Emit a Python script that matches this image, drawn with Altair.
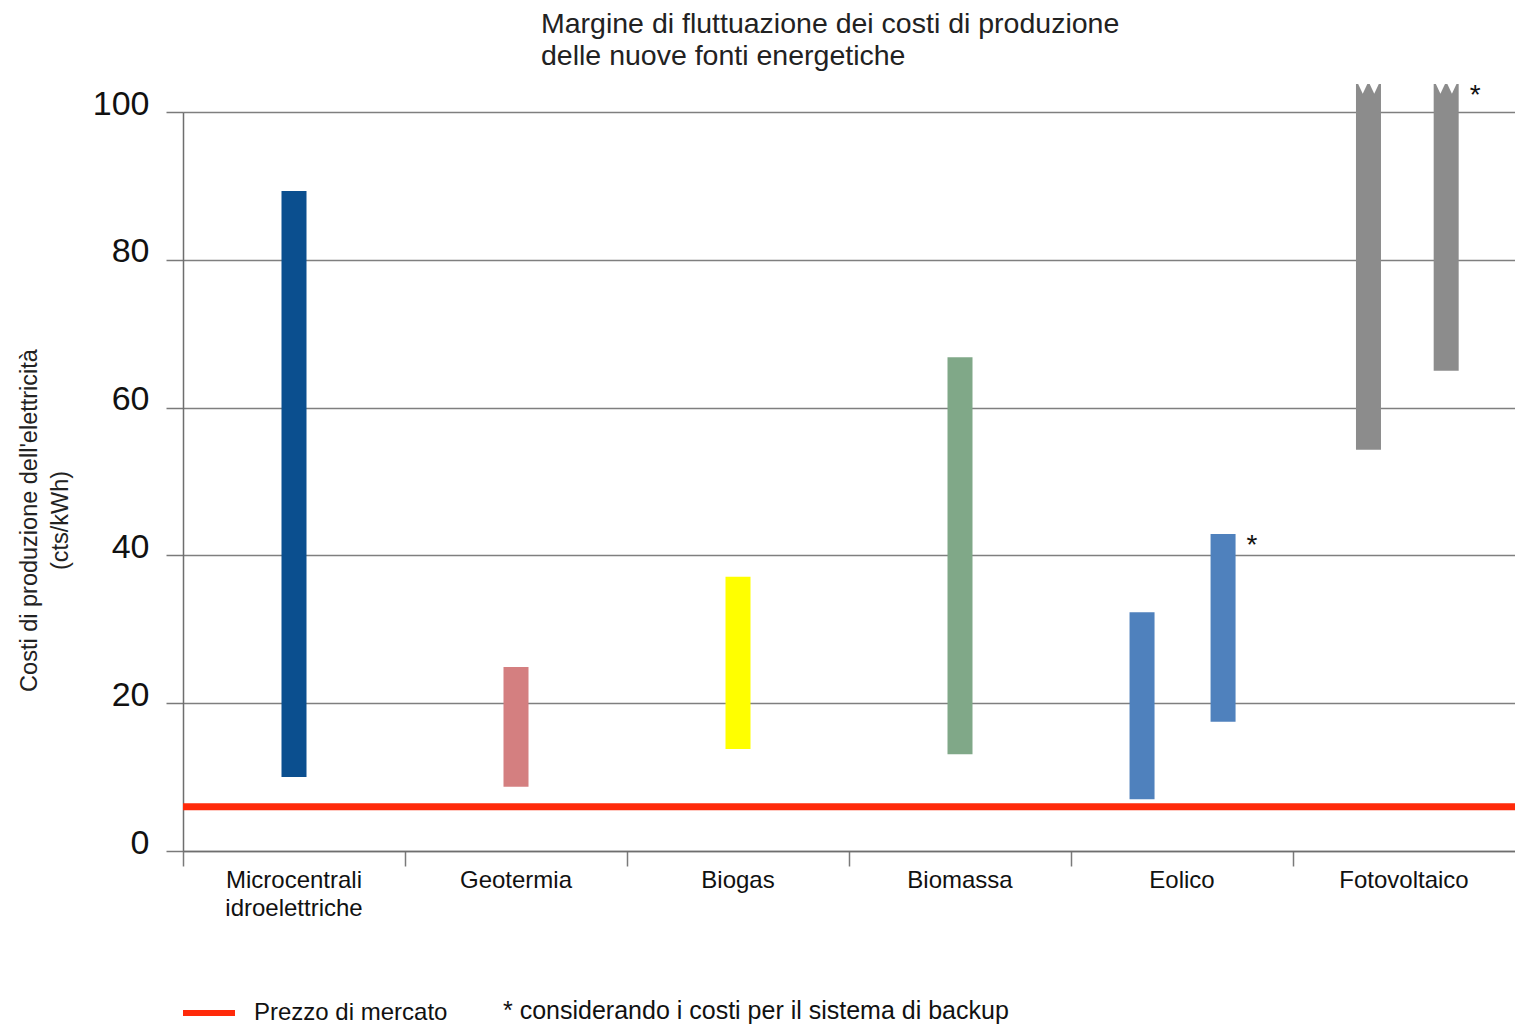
import altair as alt
import pandas as pd

# Energy sources on the horizontal axis (one band each)
categories = [
    "Microcentrali\nidroelettriche",
    "Geotermia",
    "Biogas",
    "Biomassa",
    "Eolico",
    "Fotovoltaico",
]
category_colors = ["#0b4f8f", "#d47f80", "#ffff00", "#80a888", "#4f81bd", "#8c8c8c"]

# Cost ranges (cts/kWh): one bar per range
bar_category = [0, 1, 2, 3, 4, 4, 5, 5]
bar_low = [10.0, 8.7, 13.8, 13.1, 7.0, 17.5, 54.3, 65.0]
bar_high = [89.3, 24.9, 37.1, 66.8, 32.3, 42.9, 103.8, 103.8]
bar_with_backup = [False, False, False, False, False, True, False, True]
bar_off_scale = [False, False, False, False, False, False, True, True]

market_price = 6.0
market_label = "Prezzo di mercato"
footnote = "* considerando i costi per il sistema di backup"
y_ticks = [0, 20, 40, 60, 80, 100]
y_title = ["Costi di produzione dell'elettricità", "(cts/kWh)"]
chart_title = ["Margine di fluttuazione dei costi di produzione", "delle nuove fonti energetiche"]

FONT = "Liberation Sans"

# Side-by-side placement (fraction of a band) for categories with two ranges
pair_shift = {4: (-0.18, 0.185), 5: (-0.16, 0.19)}

rows = []
for cat, lo, hi, backup, off in zip(bar_category, bar_low, bar_high, bar_with_backup, bar_off_scale):
    shift = 0.0
    if cat in pair_shift:
        shift = pair_shift[cat][1] if backup else pair_shift[cat][0]
    rows.append({
        "pos": cat + 0.5 + shift,
        "low": lo,
        "high": hi,
        "color": category_colors[cat],
        "star": "*" if backup else "",
        "off_scale": off,
    })
bars_df = pd.DataFrame(rows)
labels_df = pd.DataFrame({"pos": [i + 0.5 for i in range(len(categories))], "name": categories})
market_df = pd.DataFrame({"price": [market_price], "label": [market_label]})
note_df = pd.DataFrame({"note": [footnote]})

x_scale = alt.Scale(domain=[0, len(categories)], nice=False, zero=False, padding=0)
y_scale = alt.Scale(domain=[0, 100], nice=False, padding=0)

x_axis = alt.Axis(
    values=list(range(len(categories))), labels=False, title=None, grid=False,
    tickSize=15, tickColor="#7a7a7a", tickWidth=1.5,
    domainColor="#6e6e6e", domainWidth=1.5,
)
y_axis = alt.Axis(
    values=y_ticks, title=y_title, grid=True,
    gridColor="#7f7f7f", gridWidth=1.3,
    domainColor="#6e6e6e", domainWidth=1.5,
    tickColor="#7a7a7a", tickWidth=1.5, tickSize=17,
    labelFont=FONT, labelFontSize=34, labelColor="#111111",
    labelPadding=17, labelBaseline="alphabetic", labelOffset=2,
    titleFont=FONT, titleFontSize=23.5, titleFontWeight="normal", titleColor="#222222",
    titleLineHeight=31, titleAngle=270, titleAlign="center", titleBaseline="top",
    titleX=-166, titleY=408,
)

X = alt.X("pos:Q", scale=x_scale, axis=x_axis)

bars = alt.Chart(bars_df).mark_bar(width=25).encode(
    x=X,
    y=alt.Y("low:Q", scale=y_scale, axis=y_axis),
    y2="high:Q",
    fill=alt.Fill("color:N", scale=None),
)

# Broken tops for the ranges that run past the scale
notch_shape = "M-1,-0.35L1,-0.35L0,1.8Z"
notch_base = alt.Chart(bars_df).transform_filter("datum.off_scale")
notches = [
    notch_base.mark_point(shape=notch_shape, size=121, filled=True, color="white",
                          strokeWidth=0, opacity=1, xOffset=d).encode(
        x=X, y=alt.Y("high:Q", scale=y_scale, axis=y_axis))
    for d in (-5.75, 5.75)
]

stars = alt.Chart(bars_df).transform_filter("datum.star != ''").mark_text(
    font=FONT, fontSize=28, color="#111111", align="center", baseline="alphabetic", dx=29, dy=20,
).encode(x=X, y=alt.Y("high:Q", scale=y_scale, axis=y_axis), text="star:N")

market = alt.Chart(market_df).mark_rule(strokeWidth=7).encode(
    y=alt.Y("price:Q", scale=y_scale, axis=y_axis),
    stroke=alt.Stroke(
        "label:N",
        scale=alt.Scale(domain=[market_label], range=["#ff2a0a"]),
        legend=alt.Legend(
            title=None, orient="none", legendX=-3, legendY=872, padding=0,
            symbolType="stroke", symbolSize=2704, symbolStrokeWidth=6,
            labelFont=FONT, labelFontSize=24, labelColor="#111111", labelOffset=16,
            labelLimit=0,
        ),
    ),
)

cat_labels = alt.Chart(labels_df).mark_text(
    font=FONT, fontSize=24, lineHeight=28, color="#111111",
    align="center", baseline="top", lineBreak="\n",
).encode(x=X, y=alt.value(757), text="name:N")

note = alt.Chart(note_df).mark_text(
    font=FONT, fontSize=25, color="#111111", align="left", baseline="alphabetic",
).encode(x=alt.value(320), y=alt.value(907), text="note:N")

chart = alt.layer(bars, *notches, stars, market, cat_labels, note).properties(
    width=1332,
    height=739,
    padding={"left": 183, "top": 112, "right": 0, "bottom": 173},
    autosize=alt.AutoSizeParams(type="none"),
    title=alt.Title(
        text=chart_title, anchor="start", frame="group", dx=358, offset=11,
        font=FONT, fontSize=28.5, fontWeight="normal", color="#222222", lineHeight=32,
    ),
).configure_view(stroke=None).configure(background="white")

chart.save("out.html", embed_options={"renderer": "svg", "actions": False})
